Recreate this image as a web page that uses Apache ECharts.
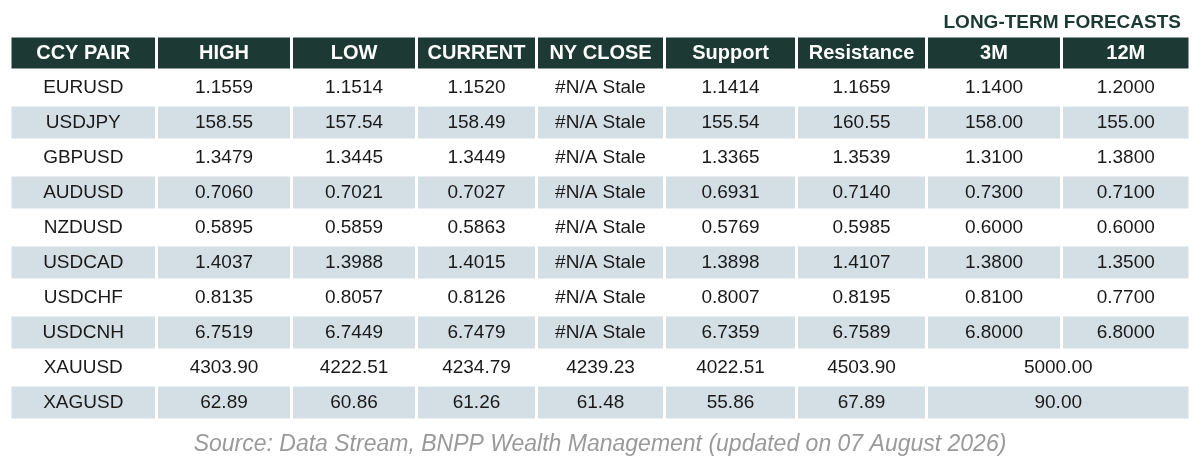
<!DOCTYPE html>
<html><head><meta charset="utf-8">
<script src="https://cdn.jsdelivr.net/npm/echarts@6/dist/echarts.min.js"></script>
<style>html,body{margin:0;padding:0;background:#fff}#c{width:1200px;height:463px}</style>
</head><body><div id="c"></div>
<script>
const headers = ['CCY PAIR','HIGH','LOW','CURRENT','NY CLOSE','Support','Resistance','3M','12M'];
const pairs = ['EURUSD','USDJPY','GBPUSD','AUDUSD','NZDUSD','USDCAD','USDCHF','USDCNH','XAUUSD','XAGUSD'];
const high = ['1.1559','158.55','1.3479','0.7060','0.5895','1.4037','0.8135','6.7519','4303.90','62.89'];
const low = ['1.1514','157.54','1.3445','0.7021','0.5859','1.3988','0.8057','6.7449','4222.51','60.86'];
const current = ['1.1520','158.49','1.3449','0.7027','0.5863','1.4015','0.8126','6.7479','4234.79','61.26'];
const nyClose = ['#N/A Stale','#N/A Stale','#N/A Stale','#N/A Stale','#N/A Stale','#N/A Stale','#N/A Stale','#N/A Stale','4239.23','61.48'];
const support = ['1.1414','155.54','1.3365','0.6931','0.5769','1.3898','0.8007','6.7359','4022.51','55.86'];
const resistance = ['1.1659','160.55','1.3539','0.7140','0.5985','1.4107','0.8195','6.7589','4503.90','67.89'];
const f3m = ['1.1400','158.00','1.3100','0.7300','0.6000','1.3800','0.8100','6.8000','5000.00','90.00'];
const f12m = ['1.2000','155.00','1.3800','0.7100','0.6000','1.3500','0.7700','6.8000',null,null];

// layout
const colEdges = [10,156.5,291.5,416.5,536.5,664.5,796.5,926.5,1061.5,1190];
const headerTop = 36, rowTop = 70, rowH = 35;
const cols = [pairs,high,low,current,nyClose,support,resistance,f3m,f12m];

const cells = [];
headers.forEach((h,c)=>cells.push([colEdges[c],colEdges[c+1],headerTop,rowTop,h,'#1c3a33','#ffffff',1]));
pairs.forEach((p,r)=>{
  const fill = r%2===1 ? '#d3dee5' : '#ffffff';
  const y0 = rowTop + r*rowH, y1 = y0+rowH;
  for(let c=0;c<9;c++){
    if(c===8 && cols[8][r]===null) continue;
    const x1 = (c===7 && cols[8][r]===null) ? colEdges[9] : colEdges[c+1];
    cells.push([colEdges[c],x1,y0,y1,cols[c][r],fill,'#1a1a1a',0]);
  }
});

const chart = echarts.init(document.getElementById('c'));
chart.setOption({
  animation:false,
  title:[
    {text:'LONG-TERM FORECASTS',right:14,top:8,textStyle:{fontFamily:'Liberation Sans',fontSize:19,fontWeight:'bold',color:'#1c3a33'}},
    {text:'Source: Data Stream, BNPP Wealth Management (updated on 07 August 2026)',left:'center',top:428,textStyle:{fontFamily:'Liberation Sans',fontSize:23,fontStyle:'italic',fontWeight:'normal',color:'#9a9a9a'}}
  ],
  grid:{left:0,right:0,top:0,bottom:0},
  xAxis:{type:'value',min:0,max:1200,show:false},
  yAxis:{type:'value',min:0,max:463,inverse:true,show:false},
  series:[{
    type:'custom',
    data:cells,
    renderItem:(params,api)=>{
      const d = cells[params.dataIndex];
      const p0 = api.coord([d[0],d[2]]), p1 = api.coord([d[1],d[3]]);
      const g = 1.5;
      return {type:'group',children:[
        {type:'rect',shape:{x:p0[0]+g,y:p0[1]+g,width:p1[0]-p0[0]-2*g,height:p1[1]-p0[1]-2*g},style:{fill:d[5]}},
        {type:'text',style:{text:d[4],x:(p0[0]+p1[0])/2,y:(p0[1]+p1[1])/2,align:'center',verticalAlign:'middle',
          fontFamily:'Liberation Sans',fontSize:d[7]?20:19,fontWeight:d[7]?'bold':'normal',fill:d[6]}}
      ]};
    }
  }]
});
</script></body></html>
